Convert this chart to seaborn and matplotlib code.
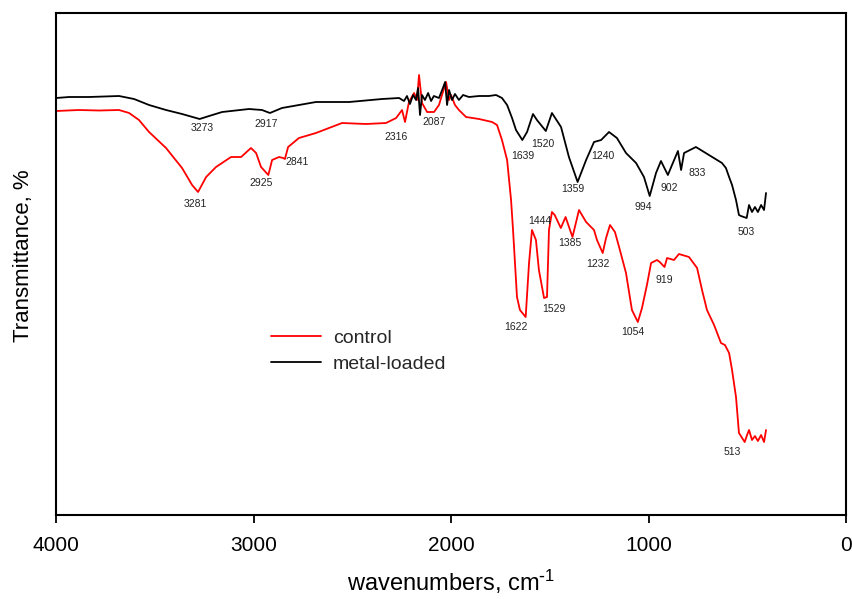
import matplotlib
matplotlib.use("Agg")
import matplotlib.pyplot as plt
import seaborn as sns
import pandas as pd

# FTIR spectrum, unmodified sorbent
control_wn = [4000, 3884, 3782, 3681, 3630, 3580, 3529, 3443, 3362, 3311, 3281, 3240,
              3190, 3114, 3063, 3013, 2987, 2962, 2925, 2906, 2871, 2850, 2841, 2825,
              2770, 2684, 2552, 2430, 2329, 2278, 2248, 2233, 2213, 2187, 2172, 2162,
              2147, 2121, 2086, 2061, 2041, 2025, 2010, 2000, 1980, 1960, 1924, 1858,
              1792, 1767, 1742, 1716, 1706, 1696, 1686, 1666, 1651, 1622, 1605, 1590,
              1570, 1555, 1529, 1514, 1504, 1489, 1475, 1444, 1420, 1385, 1352, 1316,
              1276, 1261, 1232, 1215, 1195, 1170, 1149, 1114, 1084, 1054, 1033, 1008,
              987, 957, 943, 919, 906, 871, 846, 795, 754, 729, 704, 668, 633, 613,
              592, 577, 557, 542, 513, 501, 491, 476, 461, 446, 430, 415, 405]
control_t = [404, 405, 404.5, 405, 402, 395, 383, 367, 347, 330, 323, 338,
             348, 358, 358, 367, 362, 348, 340, 355, 358, 357, 356, 368,
             377, 382, 392, 391, 392, 397, 405, 393, 413, 422, 415, 440,
             412, 403, 403, 410, 423, 433, 415, 420, 410, 405, 398, 396,
             393, 390, 375, 355, 335, 315, 285, 218, 205, 198, 252, 285,
             275, 245, 217, 218, 285, 303, 300, 287, 298, 278, 305, 293,
             285, 275, 262, 277, 290, 283, 268, 242, 205, 193, 207, 230,
             252, 255, 253, 248, 257, 255, 261, 258, 247, 225, 205, 190, 172, 170,
             162, 145, 118, 82, 73, 80, 85, 75, 79, 74, 80, 73, 85]

# FTIR spectrum after metal uptake
loaded_wn = [4000, 3934, 3833, 3757, 3681, 3605, 3529, 3443, 3362, 3273, 3225, 3159,
             3023, 2957, 2917, 2856, 2770, 2684, 2516, 2349, 2263, 2238, 2223, 2208,
             2192, 2177, 2167, 2157, 2147, 2132, 2116, 2101, 2087, 2061, 2041, 2030,
             2020, 2010, 1995, 1980, 1960, 1939, 1909, 1858, 1808, 1772, 1742, 1716,
             1691, 1671, 1639, 1615, 1585, 1565, 1520, 1489, 1443, 1403, 1359, 1316,
             1276, 1240, 1200, 1160, 1114, 1063, 1023, 994, 962, 937, 902, 881, 851,
             835, 820, 760, 694, 628, 608, 592, 577, 557, 542, 532, 503, 491, 476,
             461, 446, 430, 415, 405]
loaded_t = [417, 418, 418, 418.5, 419, 416, 410, 405, 401, 396, 399, 403,
            406, 405, 402, 407, 410, 413, 413, 416, 417, 414, 419, 411,
            420, 415, 427, 400, 420, 415, 422, 414, 419, 417, 427, 433,
            410, 425, 415, 421, 415, 420, 418, 419, 419, 420, 417, 410,
            397, 385, 375, 383, 401, 395, 384, 402, 388, 358, 333, 355,
            373, 375, 383, 377, 362, 352, 338, 319, 342, 354, 340, 350, 364,
            345, 362, 368, 360, 352, 347, 338, 330, 315, 300, 299, 297, 310, 303,
            308, 303, 310, 305, 322]

# Peak annotations: text, wavenumber position, vertical position
peak_labels = ["3273", "2917", "2316", "2087", "3281", "2925", "2841",
               "1639", "1520", "1359", "1240", "994", "902", "833",
               "1444", "1385", "1232", "1622", "1529", "1054", "919", "503", "513"]
peak_label_wn = [3261, 2937, 2278, 2086, 3296, 2962, 2780,
                 1635, 1534, 1382, 1230, 1028, 896, 754,
                 1549, 1397, 1256, 1671, 1478, 1079, 922, 506, 577]
peak_label_t = [387, 391, 378, 393, 311, 332, 353,
                359, 371, 326, 359, 308, 327, 342,
                294, 272, 251, 188, 206, 183, 235, 283, 63]

sns.set_theme(style="white")
plt.rcParams["font.family"] = ["Liberation Sans", "DejaVu Sans"]
plt.rcParams["mathtext.default"] = "regular"

df_control = pd.DataFrame({"wn": control_wn, "t": control_t})
df_loaded = pd.DataFrame({"wn": loaded_wn, "t": loaded_t})

fig = plt.figure(figsize=(8.53, 5.99), dpi=100)
ax = fig.add_axes([0.0657, 0.1402, 0.9261, 0.8381])

sns.lineplot(data=df_control, x="wn", y="t", sort=False, color="#ff0000",
             linewidth=1.3, ax=ax, label="control")
sns.lineplot(data=df_loaded, x="wn", y="t", sort=False, color="#000000",
             linewidth=1.3, ax=ax, label="metal-loaded")

for txt, xw, yt in zip(peak_labels, peak_label_wn, peak_label_t):
    ax.text(xw, yt, txt, fontsize=7.5, color="#222222", ha="center", va="center")

ax.set_xlim(4000, 0)
ax.set_ylim(0, 502)
ax.set_xticks([4000, 3000, 2000, 1000, 0])
ax.set_xticklabels(["4000", "3000", "2000", "1000", "0"], fontsize=15)
ax.set_yticks([])

for s in ax.spines.values():
    s.set_visible(True)
    s.set_color("black")
    s.set_linewidth(1.5)

ax.tick_params(axis="x", direction="out", length=6, width=1.3, pad=9,
               bottom=True, colors="black")

ax.set_xlabel("wavenumbers, cm$^{\\text{-}1}$", fontsize=17, color="black")
ax.set_ylabel("Transmittance, %", fontsize=16, color="black")
ax.xaxis.set_label_coords(0.5, -0.105)
ax.yaxis.set_label_coords(-0.028, 0.516)

leg = ax.legend(loc="upper left", bbox_to_anchor=(0.262, 0.385), frameon=False,
                fontsize=14, handlelength=2.6, handletextpad=0.6,
                labelspacing=0.4, borderaxespad=0)
for line in leg.get_lines():
    line.set_linewidth(1.3)

fig.savefig("out.png", dpi=100)
